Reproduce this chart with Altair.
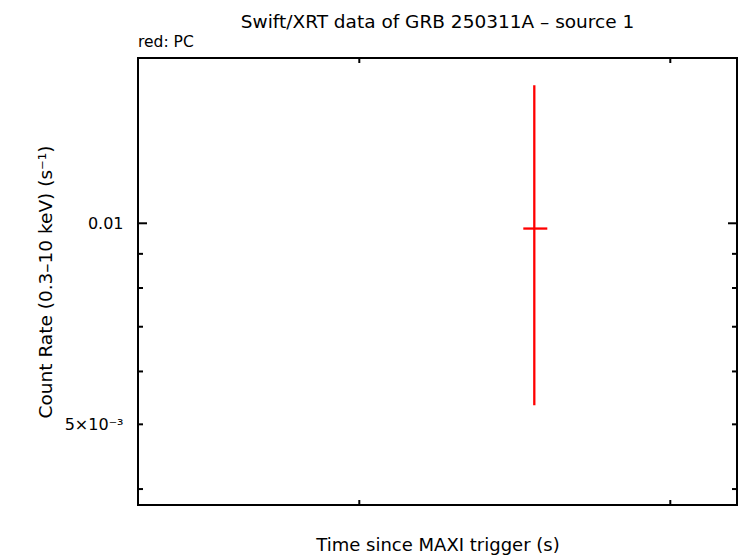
import altair as alt
import pandas as pd

# ---- data ----
time_s = [156270.0]
time_lo = [152733.0]
time_hi = [160450.0]
rate = [0.00982]
rate_lo = [0.005339]
rate_hi = [0.01609]

x_domain = [28842.0, 221447.0]
y_domain = [0.003786, 0.01768]

x_ticks = [100000.0, 200000.0]
y_major_ticks = [0.01]
y_minor_ticks = [0.004, 0.005, 0.006, 0.007, 0.008, 0.009]
y_label_values = [0.005, 0.01]

title_text = "Swift/XRT data of GRB 250311A \u2013 source 1"
legend_text = "red: PC"
x_title = "Time since MAXI trigger (s)"
y_title = "Count Rate (0.3\u201310 keV) (s\u207b\u00b9)"

W, H = 599, 447
FONT = "DejaVu Sans"

pts = pd.DataFrame({"t": time_s, "t0": time_lo, "t1": time_hi,
                    "r": rate, "r0": rate_lo, "r1": rate_hi})
xt = pd.DataFrame({"t": x_ticks})
ymaj = pd.DataFrame({"r": y_major_ticks})
ymin = pd.DataFrame({"r": y_minor_ticks})

xscale = alt.Scale(domain=x_domain, nice=False, zero=False)
yscale = alt.Scale(type="log", domain=y_domain, nice=False)

label_expr = "datum.value == 0.01 ? '0.01' : '5\u00d710\u207b\u00b3'"

base_axes = alt.Chart(pts).mark_point(opacity=0).encode(
    x=alt.X("t:Q", scale=xscale,
            axis=alt.Axis(labels=False, ticks=False, domain=False, grid=False,
                          title=x_title, titleFont=FONT, titleFontSize=18,
                          titleFontWeight="normal", titleColor="black",
                          titleBaseline="middle", titleY=40, titleX=W / 2)),
    y=alt.Y("r:Q", scale=yscale,
            axis=alt.Axis(values=y_label_values, labelExpr=label_expr,
                          ticks=False, domain=False, grid=False,
                          labelFont=FONT, labelFontSize=16, labelColor="black",
                          labelPadding=15,
                          title=y_title, titleFont=FONT, titleFontSize=18.5,
                          titleFontWeight="normal", titleColor="black",
                          titleBaseline="middle", titleX=-93, titleY=H / 2)),
)

red = "#ff0000"
vbar = alt.Chart(pts).mark_rule(color=red, strokeWidth=2.3).encode(
    x=alt.X("t:Q", scale=xscale), y=alt.Y("r0:Q", scale=yscale), y2="r1:Q")
hbar = alt.Chart(pts).mark_rule(color=red, strokeWidth=2.3).encode(
    x=alt.X("t0:Q", scale=xscale), x2="t1:Q", y=alt.Y("r:Q", scale=yscale))

def yticks(df, length):
    left = alt.Chart(df).mark_rule(color="black", strokeWidth=2).encode(
        y=alt.Y("r:Q", scale=yscale), x=alt.value(0), x2=alt.value(length))
    right = alt.Chart(df).mark_rule(color="black", strokeWidth=2).encode(
        y=alt.Y("r:Q", scale=yscale), x=alt.value(W - length), x2=alt.value(W))
    return left + right

xb = alt.Chart(xt).mark_rule(color="black", strokeWidth=2).encode(
    x=alt.X("t:Q", scale=xscale), y=alt.value(H - 5), y2=alt.value(H))
xtop = alt.Chart(xt).mark_rule(color="black", strokeWidth=2).encode(
    x=alt.X("t:Q", scale=xscale), y=alt.value(0), y2=alt.value(5))

legend = alt.Chart(pts).mark_text(align="left", baseline="middle", font=FONT,
                                  fontSize=15.5, color="black").encode(
    x=alt.value(0), y=alt.value(-16), text=alt.value(legend_text))

chart = alt.layer(
    base_axes, yticks(ymaj, 9), yticks(ymin, 5), xb, xtop, vbar, hbar, legend
).properties(
    width=W, height=H,
    autosize=alt.AutoSizeParams(type="none"),
    padding={"left": 130, "top": 50, "right": 1, "bottom": 53},
    title=alt.TitleParams(title_text, anchor="middle", font=FONT, fontSize=18.5,
                          fontWeight="normal", color="black", offset=4),
).configure(background="white", view=alt.ViewConfig(stroke="black", strokeWidth=2))

chart.save("out.html", embed_options={"renderer": "svg", "actions": False})
